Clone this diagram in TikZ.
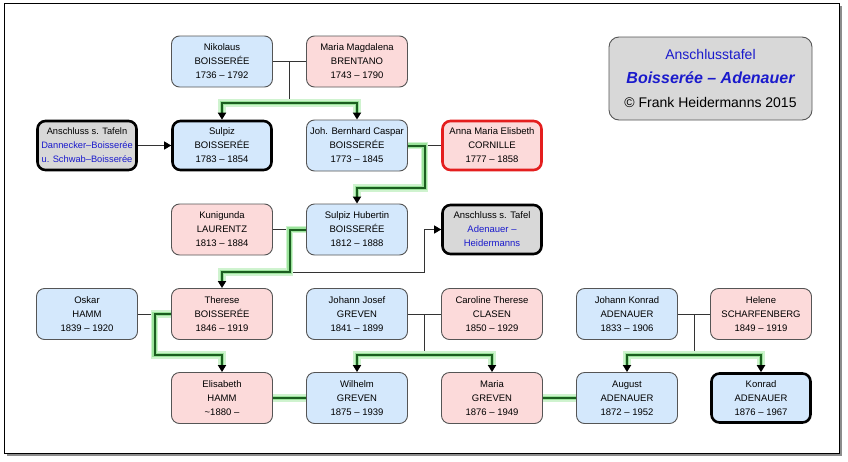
\documentclass[tikz,border=0pt]{standalone}
\usepackage{fontspec}
\setmainfont{Liberation Sans}
\usetikzlibrary{arrows.meta,calc}
\definecolor{bluefill}{HTML}{D4E8FC}
\definecolor{pinkfill}{HTML}{FCDADA}
\definecolor{grayfill}{HTML}{D8D8D8}
\definecolor{txtblue}{HTML}{1A1ACC}
\definecolor{glowL}{HTML}{CFF3CF}
\definecolor{glowM}{HTML}{9BE39B}
\definecolor{dgreen}{HTML}{1B5E20}
\definecolor{redb}{HTML}{E41E1E}
\definecolor{bord}{HTML}{555555}
\tikzset{
  person/.style={rounded corners=8pt, minimum width=101pt, minimum height=51pt,
    draw=bord, line width=0.9pt, align=center, inner sep=0pt,
    font=\fontsize{9.5}{14}\selectfont},
  man/.style={person, fill=bluefill},
  woman/.style={person, fill=pinkfill},
  keybox/.style={draw=black, line width=2.6pt, minimum width=99pt, minimum height=49pt},
  redbox/.style={draw=redb, line width=2.6pt, minimum width=99pt, minimum height=49pt},
  linkbox/.style={person, fill=grayfill, keybox},
  mline/.style={draw=black!80, line width=0.9pt},
  tipk/.style={-{Triangle[width=8pt,length=7pt,color=black]}},
  glowbase/.style={draw=dgreen, line width=2pt},
  hl/.style={glowbase, preaction={draw=glowL,line width=7.5pt},
    preaction={draw=glowM,line width=4.5pt}},
  hlend/.style={glowbase, -{Triangle[width=8pt,length=7pt,color=black]},
    preaction={draw=glowL,line width=7.5pt,-,shorten >=7pt},
    preaction={draw=glowM,line width=4.5pt,-,shorten >=7pt}},
  hlboth/.style={glowbase,
    {Triangle[width=8pt,length=7pt,color=black]}-{Triangle[width=8pt,length=7pt,color=black]},
    preaction={draw=glowL,line width=7.5pt,-,shorten >=7pt,shorten <=7pt},
    preaction={draw=glowM,line width=4.5pt,-,shorten >=7pt,shorten <=7pt}},
}
\begin{document}
\begin{tikzpicture}[x=1pt,y=-1pt]
\useasboundingbox (0,0) rectangle (848,461);
% frame
\fill[black!45] (7,6) rectangle (842,456);
\filldraw[fill=white,draw=black,line width=1pt] (4,3) rectangle (839,453);

% legend
\node[rounded corners=10pt, minimum width=203pt, minimum height=83pt, fill=grayfill,
  draw=bord, line width=0.9pt, align=center, inner sep=0pt,
  font=\fontsize{14}{24}\selectfont] (legend) at (710.5,78.5)
  {\color{txtblue}Anschlusstafel\\
   {\color{txtblue}\bfseries\itshape\fontsize{16}{24}\selectfont Boisserée – Adenauer}\\
   © Frank Heidermanns 2015};

% row 1
\node[man]   (nik) at (222,61.5) {Nikolaus\\BOISSERÉE\\1736 – 1792};
\node[woman] (mmb) at (357,61.5) {Maria Magdalena\\BRENTANO\\1743 – 1790};
% row 2
\node[linkbox,font=\fontsize{9.3}{14}\selectfont] (anst1) at (87,145.5) {Anschluss s. Tafeln\\{\color{txtblue}Dannecker–Boisserée}\\{\color{txtblue}u. Schwab–Boisserée}};
\node[man,keybox] (sul) at (222,145.5) {Sulpiz\\BOISSERÉE\\1783 – 1854};
\node[man]   (jbc) at (357,145.5) {Joh. Bernhard Caspar\\BOISSERÉE\\1773 – 1845};
\node[woman,redbox] (amc) at (492,145.5) {Anna Maria Elisbeth\\CORNILLE\\1777 – 1858};
% row 3
\node[woman] (kun) at (222,229.5) {Kunigunda\\LAURENTZ\\1813 – 1884};
\node[man]   (shb) at (357,229.5) {Sulpiz Hubertin\\BOISSERÉE\\1812 – 1888};
\node[linkbox] (anst2) at (492,229.5) {Anschluss s. Tafel\\{\color{txtblue}Adenauer –}\\{\color{txtblue}Heidermanns}};
% row 4
\node[man]   (osk) at (87,314)  {Oskar\\HAMM\\1839 – 1920};
\node[woman] (the) at (222,314) {Therese\\BOISSERÉE\\1846 – 1919};
\node[man]   (jjg) at (357,314) {Johann Josef\\GREVEN\\1841 – 1899};
\node[woman] (ctc) at (492,314) {Caroline Therese\\CLASEN\\1850 – 1929};
\node[man]   (jka) at (627,314) {Johann Konrad\\ADENAUER\\1833 – 1906};
\node[woman] (hsc) at (761,314) {Helene\\SCHARFENBERG\\1849 – 1919};
% row 5
\node[woman] (eli) at (222,398) {Elisabeth\\HAMM\\\textasciitilde1880 –};
\node[man]   (wil) at (357,398) {Wilhelm\\GREVEN\\1875 – 1939};
\node[woman] (mar) at (492,398) {Maria\\GREVEN\\1876 – 1949};
\node[man]   (aug) at (627,398) {August\\ADENAUER\\1872 – 1952};
\node[man,keybox] (kon) at (761,398) {Konrad\\ADENAUER\\1876 – 1967};

% junctions
\coordinate (j1) at ($(nik.east)!.5!(mmb.west)$);
\coordinate (b1) at ($(j1)+(0,41.5)$);
\coordinate (j2) at ($(jbc.east)!.5!(amc.west)$);
\coordinate (b2) at ($(j2)+(0,42.5)$);
\coordinate (j3) at ($(kun.east)!.5!(shb.west)$);
\coordinate (b3) at ($(j3)+(0,42.5)$);
\coordinate (j4) at ($(osk.east)!.5!(the.west)$);
\coordinate (b4) at ($(j4)+(0,41)$);
\coordinate (j5) at ($(jjg.east)!.5!(ctc.west)$);
\coordinate (b5) at ($(j5)+(0,41)$);
\coordinate (j6) at ($(jka.east)!.5!(hsc.west)$);
\coordinate (b6) at ($(j6)+(0,41)$);

% plain connectors
\draw[mline] (nik.east) -- (mmb.west);
\draw[mline] (j1) -- (b1);
\draw[mline,tipk] (anst1.east) -- (sul.west);
\draw[mline] (j2) -- (amc.west);
\draw[mline] (kun.east) -- (j3);
\draw[mline,tipk] (b3) -- (b3 -| j2) |- (anst2.west);
\draw[mline] (osk.east) -- (j4);
\draw[mline] (jjg.east) -- (ctc.west);
\draw[mline] (j5) -- (b5);
\draw[mline] (jka.east) -- (hsc.west);
\draw[mline] (j6) -- (b6);

% highlighted line
\draw[hlboth] (sul.north) |- (b1) -| (jbc.north);
\draw[hlend] (jbc.east) -- (j2) -- (b2) -| (shb.north);
\draw[hlend] (shb.west) -- (j3) -- (b3) -| (the.north);
\draw[hlend] (the.west) -- (j4) -- (b4) -| (eli.north);
\draw[hlboth] (wil.north) |- (b5) -| (mar.north);
\draw[hlboth] (aug.north) |- (b6) -| (kon.north);
\draw[hl] (eli.east) -- (wil.west);
\draw[hl] (mar.east) -- (aug.west);
\end{tikzpicture}
\end{document}
